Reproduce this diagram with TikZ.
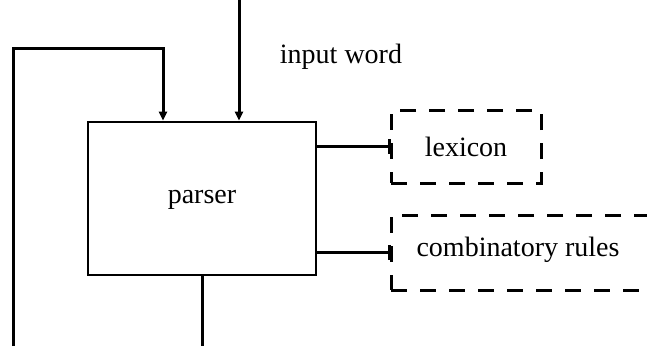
\documentclass[tikz,border=0pt]{standalone}
\usepackage{fontspec}
\setmainfont{Liberation Serif}
\usetikzlibrary{arrows.meta}
\begin{document}
\begin{tikzpicture}[x=1pt,y=-1pt,
  txt/.style={font=\fontsize{28}{33}\selectfont},
  mainbox/.style={draw,line width=2.8pt,inner sep=0pt},
  dbox/.style={draw,line width=3pt,inner sep=0pt,dash pattern=on 16pt off 13pt},
  flow/.style={line width=3pt},
  link/.style={line width=2.2pt},
  tip/.style={-{Triangle[length=9pt,width=8pt]}}]
\useasboundingbox (0,0) rectangle (647,346);

% the parser and its two resources
\node[mainbox,minimum width=228pt,minimum height=153pt] (parser) at (202,198.5) {};
\node[txt] (parsertext) at (202,200) {parser};
\node[dbox,txt,minimum width=150pt,minimum height=73pt] (lex) at (466,146.5) {lexicon};
\node[dbox,minimum width=266pt,minimum height=75pt] (comb) at (524,252.5) {};
\node[txt] (combtext) at (518,250) {combinatory rules};

\node[txt] (inword) at (341,57) {input word};

% free ends
\coordinate (in) at (239,0);
\coordinate (fbstart) at (13,346);
\coordinate (fbtop) at (163,48);
\coordinate (out) at (202,346);

% input word into the parser
\draw[flow,tip] (in) -- (in |- parser.north);
% feedback loop back to the parser
\draw[flow,tip] (fbstart) |- (fbtop) -- (fbtop |- parser.north);
% output
\draw[flow] (parser.south) -- (out);

% lookups, each ending in a short bar on the resource's edge
\draw[link] (lex.west -| parser.east) -- (lex.west) +(0,-7.5) -- +(0,7.5);
\draw[link] (comb.west -| parser.east) -- (comb.west) +(0,-7.5) -- +(0,7.5);
\end{tikzpicture}
\end{document}
